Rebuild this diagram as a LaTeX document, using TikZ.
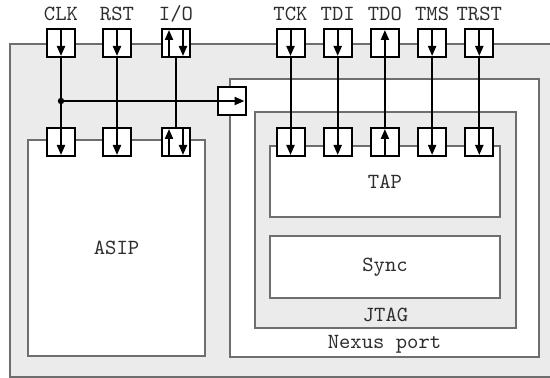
\documentclass[tikz,border=0pt]{standalone}
\usepackage{fontspec}
\usetikzlibrary{arrows.meta, positioning}
\definecolor{bgGray}{RGB}{235,235,235}
\definecolor{lnGray}{RGB}{110,110,110}
\definecolor{txGray}{RGB}{45,45,45}

\begin{document}
\begin{tikzpicture}[x=0.5pt, y=-0.5pt, font=\ttfamily\fontsize{10.8}{12}\selectfont,
    BOX/.style={draw=lnGray, line width=0.7pt, fill=white, text=txGray, inner sep=0pt},
    PIN/.style={draw, line width=1pt, fill=white, minimum size=14pt, inner sep=0pt},
    LBL/.style={inner sep=0pt, text height=1.6ex, text depth=0pt, text=txGray},
    SIG/.style={line width=1pt, -{Triangle[length=5pt, width=4pt]}, shorten >=1pt}]
    \useasboundingbox (0,0) rectangle (550,378);
    \clip (0,0) rectangle (550,378);
    \draw[BOX, fill=bgGray] (10,44) rectangle (560,377);
    % blocks
    \node[BOX, minimum width=88.5pt, minimum height=108pt] (asip) at (116.5,248) {ASIP};
    \node[BOX, minimum width=154.5pt, minimum height=139pt] (nexus) at (384.5,218) {};
    \node[BOX, fill=bgGray, minimum width=130.5pt, minimum height=108pt] (jtag) at (385.5,220) {};
    \node[BOX, minimum width=115pt, minimum height=35.5pt] (tap) at (385,181.5) {TAP};
    \node[BOX, minimum width=115pt, minimum height=31pt] (sync) at (385,267) {Sync};
    \node[LBL, above=3.5pt of jtag.south] (jtagLbl) {JTAG};
    \node[LBL, above=4.5pt of nexus.south] (nexusLbl) {Nexus port};
    % pins of the chip
    \node[PIN] (clkTop) at (61,43) {};
    \node[PIN, right=13pt of clkTop] (rstTop) {};
    \node[PIN, right=14.5pt of rstTop] (ioTop) {};
    \node[PIN] (tckTop) at (290.5,43) {};
    \node[PIN, right=8.6pt of tckTop] (tdiTop) {};
    \node[PIN, right=8.6pt of tdiTop] (tdoTop) {};
    \node[PIN, right=8.6pt of tdoTop] (tmsTop) {};
    \node[PIN, right=8.6pt of tmsTop] (trstTop) {};
    % pins of the blocks
    \node[PIN, below=34.5pt of clkTop] (clkBot) {};
    \node[PIN, below=34.5pt of rstTop] (rstBot) {};
    \node[PIN, below=34.5pt of ioTop] (ioBot) {};
    \node[PIN, below=34.5pt of tckTop] (tckBot) {};
    \node[PIN, below=34.5pt of tdiTop] (tdiBot) {};
    \node[PIN, below=34.5pt of tdoTop] (tdoBot) {};
    \node[PIN, below=34.5pt of tmsTop] (tmsBot) {};
    \node[PIN, below=34.5pt of trstTop] (trstBot) {};
    \node[PIN] (nexusPin) at (231.5,101) {};
    % pin names
    \node[LBL, above=3.6pt of clkTop] (clkLbl) {CLK};
    \node[LBL, above=3.6pt of rstTop] (rstLbl) {RST};
    \node[LBL, above=3.6pt of ioTop] (ioLbl) {I/O};
    \node[LBL, above=3.6pt of tckTop] (tckLbl) {TCK};
    \node[LBL, above=3.6pt of tdiTop] (tdiLbl) {TDI};
    \node[LBL, above=3.6pt of tdoTop] (tdoLbl) {TDO};
    \node[LBL, above=3.6pt of tmsTop] (tmsLbl) {TMS};
    \node[LBL, above=3.6pt of trstTop] (trstLbl) {TRST};
    % signals
    \draw[SIG] (clkTop.north) -- (clkTop.south); \draw[SIG] (clkTop.south) -- (clkBot.south);
    \draw[SIG] (rstTop.north) -- (rstTop.south); \draw[SIG] (rstTop.south) -- (rstBot.south);
    \draw[SIG] ([xshift=-3.5pt]ioTop.south) -- ([xshift=-3.5pt]ioTop.north); \draw[SIG] ([xshift=3.5pt]ioTop.north) -- ([xshift=3.5pt]ioTop.south);
    \draw[line width=1pt] (ioTop.south) -- (ioBot.north);
    \draw[SIG] ([xshift=-3.5pt]ioBot.south) -- ([xshift=-3.5pt]ioBot.north); \draw[SIG] ([xshift=3.5pt]ioBot.north) -- ([xshift=3.5pt]ioBot.south);
    \coordinate (clkDot) at (clkTop |- nexusPin);
    \fill (clkDot) circle (1.6pt); \draw[SIG] (clkDot) -- (nexusPin.east);
    \draw[SIG] (tckTop.north) -- (tckTop.south); \draw[SIG] (tckTop.south) -- (tckBot.south);
    \draw[SIG] (tdiTop.north) -- (tdiTop.south); \draw[SIG] (tdiTop.south) -- (tdiBot.south);
    \draw[SIG] (tdoBot.south) -- (tdoBot.north); \draw[SIG] (tdoBot.north) -- (tdoTop.north);
    \draw[SIG] (tmsTop.north) -- (tmsTop.south); \draw[SIG] (tmsTop.south) -- (tmsBot.south);
    \draw[SIG] (trstTop.north) -- (trstTop.south); \draw[SIG] (trstTop.south) -- (trstBot.south);
\end{tikzpicture}
\end{document}
